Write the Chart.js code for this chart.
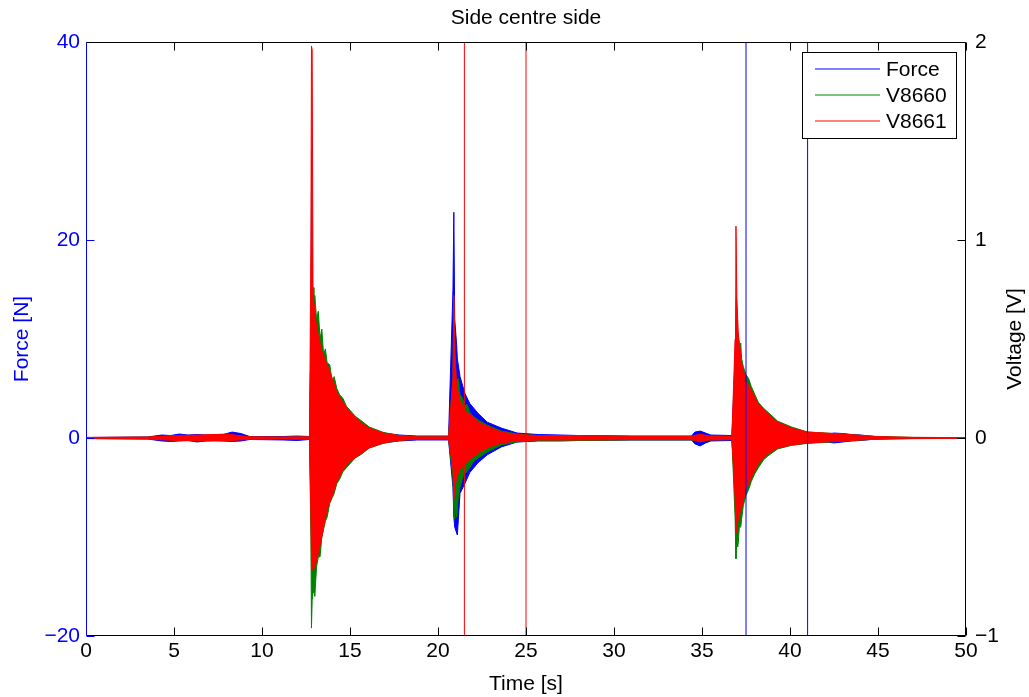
<!DOCTYPE html>
<html lang="en">
<head>
<meta charset="UTF-8">
<title>Side centre side</title>
<script src="https://cdn.jsdelivr.net/npm/chart.js"></script>
<style>
  body { margin: 0; background: #fff; }
</style>
</head>
<body>
<canvas id="chart" width="1029" height="697"></canvas>
<script>
const forceT = [
  0, 3.5, 4.3, 4.8, 5.3, 5.8, 6.3, 6.8, 7.3, 7.8,
  8.3, 8.8, 9.3, 11.2, 12.0, 12.7, 12.78, 12.82, 12.86, 12.9,
  13.1, 13.4, 13.7, 14.0, 14.6, 15.0, 15.6, 16.1, 16.9, 17.8,
  18.8, 20.6, 20.85, 20.9, 20.95, 21.06, 21.1, 21.25, 21.53, 21.8,
  22.27, 22.8, 23.6, 24.5, 25.7, 27.0, 28.0, 31.0, 34.4, 34.6,
  34.9, 35.2, 35.5, 36.7, 36.88, 36.95, 37.06, 37.25, 37.5, 37.8,
  38.2, 38.75, 39.3, 40.1, 41.0, 42.0, 42.5, 43.0, 43.5, 44.0,
  44.8, 46.0, 50.0
];
const forceHi = [
  0.05, 0.1, 0.3, 0.25, 0.4, 0.3, 0.35, 0.3, 0.3, 0.35,
  0.6, 0.45, 0.15, 0.15, 0.2, 0.15, 10, 29, 12, 11,
  9, 7.5, 6, 4.8, 3, 2.2, 1.4, 0.9, 0.5, 0.3,
  0.2, 0.2, 15, 22.8, 12, 9.4, 8.0, 6.2, 4.5, 3.5,
  2.5, 1.6, 1.0, 0.5, 0.35, 0.3, 0.25, 0.2, 0.2, 0.6,
  0.7, 0.5, 0.3, 0.25, 8, 14, 9, 6.5, 5, 4,
  3, 2.2, 1.5, 0.9, 0.5, 0.35, 0.5, 0.45, 0.35, 0.3,
  0.15, 0.05, 0.03
];
const forceLo = [
  -0.05, -0.1, -0.3, -0.35, -0.3, -0.25, -0.4, -0.3, -0.25, -0.3,
  -0.35, -0.3, -0.15, -0.2, -0.25, -0.15, -6, -10, -10.5, -10.5,
  -10, -8.5, -6.5, -5, -3, -2.2, -1.4, -0.9, -0.5, -0.3,
  -0.2, -0.2, -5, -8, -9, -9.6, -9.8, -5.6, -4.6, -3.5,
  -2.5, -1.7, -0.9, -0.4, -0.3, -0.3, -0.25, -0.2, -0.2, -0.6,
  -0.8, -0.5, -0.3, -0.25, -5, -8, -8, -6, -4.5, -3.5,
  -2.5, -1.5, -1, -0.7, -0.5, -0.4, -0.5, -0.4, -0.3, -0.25,
  -0.12, -0.05, -0.03
];

const v8660T = [
  0, 3.5, 5.0, 6.5, 8.0, 9.3, 11.2, 12.7, 12.78, 12.81,
  12.85, 12.9, 12.95, 13.0, 13.1, 13.2, 13.3, 13.4, 13.5, 13.6,
  13.7, 13.85, 14.0, 14.1, 14.25, 14.4, 14.6, 14.8, 15.0, 15.3,
  15.6, 16.1, 16.9, 17.8, 18.8, 20.6, 20.85, 20.9, 20.95, 21.0,
  21.06, 21.15, 21.25, 21.4, 21.5, 21.65, 21.8, 22.0, 22.3, 22.8,
  23.6, 24.5, 25.7, 28.0, 31.0, 34.4, 34.9, 35.4, 36.7, 36.88,
  36.93, 36.98, 37.03, 37.06, 37.12, 37.2, 37.25, 37.35, 37.5, 37.65,
  37.8, 38.0, 38.2, 38.5, 38.75, 39.3, 40.1, 41.0, 42.0, 43.0,
  44.8, 47.0, 50.0
];
const v8660Hi = [
  0.002, 0.004, 0.01, 0.012, 0.015, 0.005, 0.004, 0.005, 0.5, 0.7,
  0.76, 0.76, 0.6, 0.72, 0.6, 0.64, 0.5, 0.55, 0.42, 0.45,
  0.38, 0.37, 0.28, 0.31, 0.25, 0.22, 0.2, 0.16, 0.14, 0.11,
  0.09, 0.055, 0.028, 0.013, 0.006, 0.005, 0.3, 0.70, 0.45, 0.3,
  0.28, 0.3, 0.22, 0.2, 0.16, 0.17, 0.13, 0.11, 0.09, 0.065,
  0.035, 0.02, 0.012, 0.01, 0.008, 0.008, 0.015, 0.01, 0.008, 0.3,
  0.53, 0.5, 0.45, 0.53, 0.42, 0.48, 0.4, 0.36, 0.32, 0.3,
  0.26, 0.22, 0.18, 0.15, 0.13, 0.085, 0.055, 0.03, 0.025, 0.02,
  0.008, 0.003, 0.002
];
const v8660Lo = [
  -0.002, -0.004, -0.01, -0.012, -0.012, -0.005, -0.004, -0.005, -0.5, -0.96,
  -0.82, -0.78, -0.7, -0.8, -0.65, -0.6, -0.6, -0.5, -0.46, -0.42,
  -0.40, -0.33, -0.30, -0.28, -0.23, -0.21, -0.17, -0.15, -0.13, -0.1,
  -0.085, -0.05, -0.027, -0.012, -0.006, -0.005, -0.2, -0.35, -0.41, -0.34,
  -0.40, -0.3, -0.25, -0.2, -0.18, -0.17, -0.15, -0.12, -0.10, -0.07,
  -0.035, -0.02, -0.012, -0.012, -0.01, -0.01, -0.015, -0.01, -0.008, -0.4,
  -0.61, -0.5, -0.55, -0.53, -0.45, -0.45, -0.41, -0.34, -0.29, -0.26,
  -0.22, -0.18, -0.15, -0.11, -0.09, -0.055, -0.037, -0.027, -0.022, -0.016,
  -0.006, -0.003, -0.002
];

const v8661T = [
  0, 3.5, 5.0, 6.5, 8.0, 9.3, 11.2, 12.7, 12.78, 12.81,
  12.85, 12.9, 13.1, 13.4, 13.7, 14.0, 14.25, 14.6, 15.0, 15.6,
  16.1, 16.9, 17.8, 18.8, 20.6, 20.85, 20.9, 20.95, 21.06, 21.25,
  21.5, 21.8, 22.3, 22.8, 23.6, 24.5, 25.7, 28.0, 31.0, 34.4,
  34.9, 35.4, 36.7, 36.88, 36.93, 36.98, 37.06, 37.25, 37.5, 37.8,
  38.2, 38.75, 39.3, 40.1, 41.0, 42.0, 43.0, 44.8, 47.0, 50.0
];
const v8661Hi = [
  0.003, 0.005, 0.012, 0.015, 0.02, 0.006, 0.005, 0.006, 1.0, 1.98,
  1.96, 0.72, 0.56, 0.44, 0.37, 0.30, 0.23, 0.18, 0.13, 0.08,
  0.05, 0.025, 0.012, 0.006, 0.006, 0.3, 0.72, 0.45, 0.26, 0.19,
  0.14, 0.12, 0.08, 0.06, 0.03, 0.018, 0.012, 0.012, 0.008, 0.008,
  0.02, 0.01, 0.008, 0.5, 1.07, 0.71, 0.53, 0.38, 0.29, 0.24,
  0.17, 0.12, 0.08, 0.05, 0.03, 0.025, 0.02, 0.008, 0.003, 0.002
];
const v8661Lo = [
  -0.003, -0.005, -0.012, -0.015, -0.015, -0.006, -0.005, -0.006, -0.4, -0.63,
  -0.66, -0.67, -0.62, -0.50, -0.36, -0.29, -0.22, -0.16, -0.12, -0.08,
  -0.05, -0.025, -0.012, -0.006, -0.006, -0.15, -0.31, -0.25, -0.2, -0.16,
  -0.13, -0.11, -0.075, -0.05, -0.025, -0.015, -0.01, -0.01, -0.008, -0.008,
  -0.02, -0.01, -0.008, -0.3, -0.48, -0.45, -0.41, -0.35, -0.26, -0.2,
  -0.13, -0.08, -0.05, -0.035, -0.025, -0.02, -0.015, -0.006, -0.003, -0.002
];

// cursor lines
const redMarkers = [21.5, 25.0];
const blueMarkers = [37.5, 41.0];

const seriesNames = ['Force', 'V8660', 'V8661'];
const seriesColors = ['#0000ff', '#008000', '#ff0000'];
const FONT = '"Liberation Sans", Arial, Helvetica, sans-serif';

function pts(t, v) {
  return t.map((x, i) => ({ x: x, y: v[i] }));
}

function band(name, color, axis, order, t, hi, lo) {
  return [
    { label: name, data: pts(t, hi), borderColor: color, backgroundColor: color,
      yAxisID: axis, order: order, fill: false },
    { label: name + ' (lo)', data: pts(t, lo), borderColor: color, backgroundColor: color,
      yAxisID: axis, order: order, fill: '-1' }
  ];
}

const datasets = [].concat(
  band(seriesNames[0], seriesColors[0], 'y', 3, forceT, forceHi, forceLo),
  band(seriesNames[1], seriesColors[1], 'y1', 2, v8660T, v8660Hi, v8660Lo),
  band(seriesNames[2], seriesColors[2], 'y1', 1, v8661T, v8661Hi, v8661Lo)
);
redMarkers.forEach(m => datasets.push({
  label: 'marker', data: [{ x: m, y: -1 }, { x: m, y: 2 }],
  borderColor: '#ff0000', yAxisID: 'y1', order: 0, fill: false
}));
blueMarkers.forEach(m => datasets.push({
  label: 'marker', data: [{ x: m, y: -20 }, { x: m, y: 40 }],
  borderColor: '#0000ff', yAxisID: 'y', order: 0, fill: false
}));

const minus = v => String(v).replace('-', '\u2212');

// matlab style frame: inward ticks, box, legend, title
const frame = {
  id: 'frame',
  afterDatasetsDraw(chart) {
    const { ctx, chartArea: a, scales } = chart;
    const L = a.left + 0.5, R = a.right - 0.5, T = a.top + 0.5, B = a.bottom - 0.5;
    ctx.save();
    ctx.lineWidth = 1;
    const seg = (x1, y1, x2, y2, c) => {
      ctx.strokeStyle = c;
      ctx.beginPath(); ctx.moveTo(x1, y1); ctx.lineTo(x2, y2); ctx.stroke();
    };
    scales.x.ticks.forEach(t => {
      const px = Math.round(scales.x.getPixelForValue(t.value)) + 0.5;
      seg(px, B, px, B - 8, '#000');
      seg(px, T, px, T + 8, '#000');
    });
    scales.y.ticks.forEach(t => {
      const py = Math.round(scales.y.getPixelForValue(t.value)) + 0.5;
      seg(L, py, L + 8, py, '#0000ff');
    });
    scales.y1.ticks.forEach(t => {
      const py = Math.round(scales.y1.getPixelForValue(t.value)) + 0.5;
      seg(R, py, R - 8, py, '#000');
    });
    seg(L, T, R, T, '#000');
    seg(R, T, R, B, '#000');
    seg(L, B, R, B, '#000');
    seg(L, T, L, B, '#0000ff');

    // legend
    const bx = 802.5, by = 52.5, bw = 154, bh = 86;
    ctx.fillStyle = '#fff';
    ctx.fillRect(bx, by, bw, bh);
    ctx.strokeStyle = '#000';
    ctx.strokeRect(bx, by, bw, bh);
    ctx.font = '21px ' + FONT;
    ctx.textBaseline = 'middle';
    ctx.textAlign = 'left';
    seriesNames.forEach((n, i) => {
      const y = 69 + i * 26;
      seg(815, y, 880, y, seriesColors[i]);
      ctx.fillStyle = '#000';
      ctx.fillText(n, 886, y + 1);
    });

    // title and right axis label
    ctx.fillStyle = '#000';
    ctx.textAlign = 'center';
    ctx.fillText('Side centre side', (a.left + a.right) / 2, 18);
    ctx.translate(1015, (a.top + a.bottom) / 2);
    ctx.rotate(-Math.PI / 2);
    ctx.fillText('Voltage [V]', 0, 0);
    ctx.restore();
  }
};

Chart.defaults.font.family = FONT;
Chart.defaults.font.size = 21;

new Chart(document.getElementById('chart'), {
  type: 'line',
  data: { datasets: datasets },
  options: {
    responsive: false,
    animation: false,
    devicePixelRatio: 1,
    parsing: false,
    layout: { padding: { top: 42, left: 0, right: 0, bottom: 0 } },
    elements: {
      line: { borderWidth: 1, tension: 0 },
      point: { radius: 0, hoverRadius: 0 }
    },
    plugins: {
      legend: { display: false },
      title: { display: false },
      tooltip: { enabled: false },
      filler: { propagate: false }
    },
    scales: {
      x: {
        type: 'linear', min: 0, max: 50,
        grid: { display: false, drawTicks: false },
        border: { display: false },
        ticks: { stepSize: 5, color: '#000', padding: 3, maxRotation: 0, autoSkip: false },
        title: { display: true, text: 'Time [s]', color: '#000', padding: { top: 0, bottom: 0 } },
        afterFit(s) { s.height = 61; }
      },
      y: {
        position: 'left', min: -20, max: 40,
        grid: { display: false, drawTicks: false },
        border: { display: false },
        ticks: { stepSize: 20, color: '#0000ff', padding: 6, callback: minus },
        title: { display: true, text: 'Force [N]', color: '#0000ff', padding: { top: 10, bottom: 0 } },
        afterFit(s) { s.width = 86; }
      },
      y1: {
        position: 'right', min: -1, max: 2,
        grid: { display: false, drawTicks: false },
        border: { display: false },
        ticks: { stepSize: 1, color: '#000', padding: 9, callback: minus },
        afterFit(s) { s.width = 63; }
      }
    }
  },
  plugins: [frame]
});
</script>
</body>
</html>
